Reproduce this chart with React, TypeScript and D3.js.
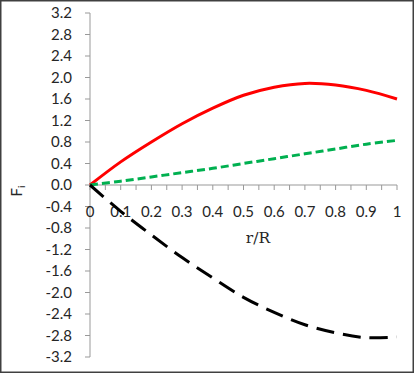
import React from "react";
import * as d3 from "d3";

const xs = [0, 0.1, 0.2, 0.3, 0.4, 0.5, 0.6, 0.7, 0.8, 0.9, 1.0];
const redSeries = [0, 0.43, 0.8, 1.14, 1.43, 1.67, 1.82, 1.89, 1.86, 1.76, 1.6];
const greenSeries = [0, 0.07, 0.15, 0.23, 0.31, 0.4, 0.49, 0.58, 0.67, 0.76, 0.83];
const blackSeries = [0, -0.49, -0.93, -1.35, -1.73, -2.09, -2.37, -2.6, -2.75, -2.84, -2.83];
const yTicks = [3.2, 2.8, 2.4, 2.0, 1.6, 1.2, 0.8, 0.4, 0.0, -0.4, -0.8, -1.2, -1.6, -2.0, -2.4, -2.8, -3.2];
const xLabels = [0, 0.1, 0.2, 0.3, 0.4, 0.5, 0.6, 0.7, 0.8, 0.9, 1];
const xMinorTicks = d3.range(0, 21).map((i) => i * 0.05);

const W = 415;
const H = 377;

export default function App() {
  const x = d3.scaleLinear().domain([0, 1]).range([90, 397]);
  const y = d3.scaleLinear().domain([-3.2, 3.2]).range([357, 13]);
  const line = d3
    .line<number>()
    .x((_, i) => x(xs[i]))
    .y((d) => y(d))
    .curve(d3.curveCatmullRom.alpha(0.5));
  const font = "Lato, 'Open Sans', sans-serif";
  const textColor = "#262626";
  const axisColor = "#999";
  return (
    <svg
      width={W}
      height={H}
      style={{ position: "fixed", left: 0, top: 0, background: "#fff" }}
    >
      <rect x={0.75} y={0.75} width={412.5} height={371.5} fill="#fff" stroke="#404040" strokeWidth={1.5} />
      {/* y axis */}
      <line x1={x(0)} x2={x(0)} y1={y(3.2)} y2={y(-3.2)} stroke={axisColor} strokeWidth={1} />
      {yTicks.map((t) => (
        <g key={"y" + t}>
          <line x1={x(0) - 5} x2={x(0)} y1={y(t)} y2={y(t)} stroke={axisColor} strokeWidth={1} />
          <text
            x={72}
            y={y(t) + 5}
            textAnchor="end"
            fontFamily={font}
            fontSize={15}
            fill={textColor}
          >
            {t.toFixed(1)}
          </text>
        </g>
      ))}
      {/* x axis */}
      <line x1={x(0)} x2={x(1)} y1={y(0)} y2={y(0)} stroke={axisColor} strokeWidth={1} />
      {xMinorTicks.map((t) => (
        <line key={"xt" + t} x1={x(t)} x2={x(t)} y1={y(0)} y2={y(0) + 5} stroke={axisColor} strokeWidth={1} />
      ))}
      {xLabels.map((t) => (
        <text
          key={"xl" + t}
          x={x(t)}
          y={217}
          textAnchor="middle"
          fontFamily={font}
          fontSize={15}
          fill={textColor}
        >
          {String(t)}
        </text>
      ))}
      <text x={258} y={243} textAnchor="middle" fontFamily="'DejaVu Serif', serif" fontSize={15.5} fill={textColor}>
        r/R
      </text>
      <text
        transform="translate(22,191) rotate(-90)"
        textAnchor="middle"
        fontFamily={font}
        fontSize={15}
        fill={textColor}
      >
        F<tspan fontSize={10} dy={3}>i</tspan>
      </text>
      {/* series */}
      <path d={line(redSeries) || ""} fill="none" stroke="#ff0000" strokeWidth={3} />
      <path d={line(greenSeries) || ""} fill="none" stroke="#00b050" strokeWidth={3} strokeDasharray="8,4" />
      <path d={line(blackSeries) || ""} fill="none" stroke="#000" strokeWidth={3} strokeDasharray="18,9" />
    </svg>
  );
}
